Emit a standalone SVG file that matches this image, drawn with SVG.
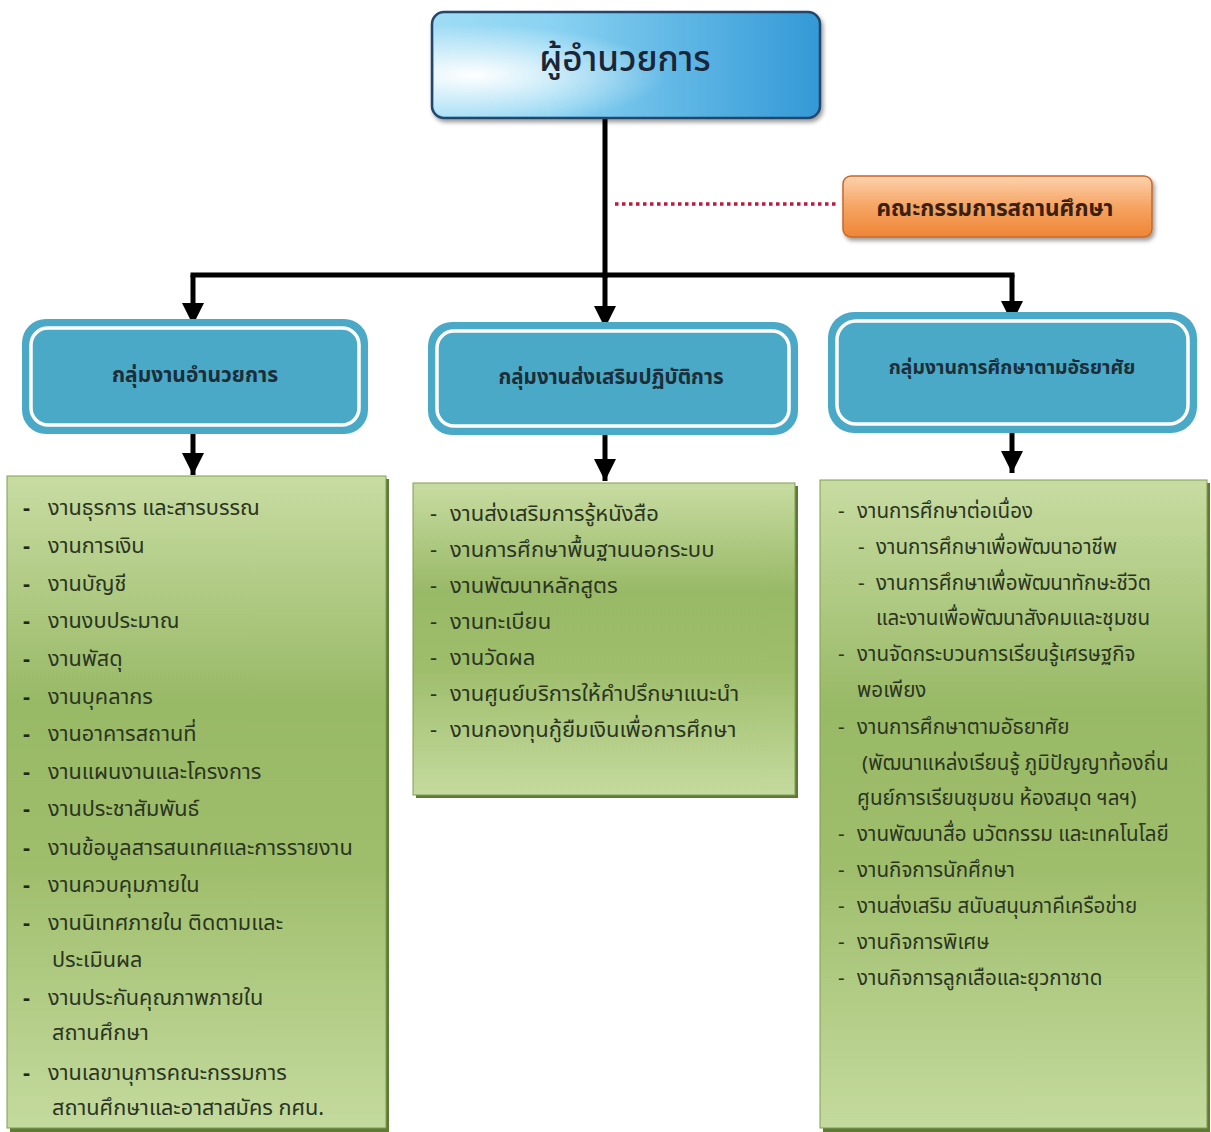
<svg xmlns="http://www.w3.org/2000/svg" width="1211" height="1132" viewBox="0 0 1211 1132">
<defs>
  <linearGradient id="gTop" x1="0" y1="0" x2="1" y2="0">
    <stop offset="0" stop-color="#9fdcf5"/>
    <stop offset="0.3" stop-color="#8ad3f2"/>
    <stop offset="1" stop-color="#3399d6"/>
  </linearGradient>
  <radialGradient id="gGlow" cx="0.1" cy="0.6" r="0.5">
    <stop offset="0" stop-color="#ffffff" stop-opacity="1"/>
    <stop offset="0.45" stop-color="#ffffff" stop-opacity="0.55"/>
    <stop offset="1" stop-color="#ffffff" stop-opacity="0"/>
  </radialGradient>
  <linearGradient id="gOrange" x1="0" y1="0" x2="0" y2="1">
    <stop offset="0" stop-color="#fcd2ad"/>
    <stop offset="0.5" stop-color="#f6a463"/>
    <stop offset="1" stop-color="#ee8535"/>
  </linearGradient>
  <linearGradient id="gGreen" x1="0" y1="0" x2="0" y2="1">
    <stop offset="0" stop-color="#c8dca2"/>
    <stop offset="0.35" stop-color="#98b966"/>
    <stop offset="0.6" stop-color="#9fbe6c"/>
    <stop offset="1" stop-color="#c4da9e"/>
  </linearGradient>
  <filter id="sh" x="-10%" y="-10%" width="130%" height="140%">
    <feDropShadow dx="2" dy="3" stdDeviation="2" flood-color="#000" flood-opacity="0.4"/>
  </filter>
  <marker id="ah" viewBox="0 0 10 10" refX="10" refY="5" markerWidth="4.4" markerHeight="4.4" markerUnits="strokeWidth" orient="auto">
    <path d="M0,0 L10,5 L0,10 z" fill="#000"/>
  </marker>
  <style>
    .th { font-family: "Noto Sans Thai", "Liberation Sans", "DejaVu Sans", sans-serif; }
    .grp rect.o { fill: #4aa9c7; }
    .grp rect.i { fill: #4aa9c7; stroke: #ffffff; stroke-width: 3.5; }
    .gt { font-weight: bold; fill: #1c2e3a; text-anchor: middle; }
    .li { fill: #2b3522; }
    .dash { fill: #1e2a14; font-weight: bold; }
    .box { fill: url(#gGreen); stroke: #7f9f52; stroke-width: 1; }
    .conn { stroke: #000; stroke-width: 5; fill: none; }
  </style>
</defs>
<rect width="1211" height="1132" fill="#ffffff"/>

<g id="connectors">
  <line class="conn" x1="605" y1="118" x2="605" y2="278"/>
  <line class="conn" x1="190.5" y1="275" x2="1014.5" y2="275"/>
  <line class="conn" x1="193" y1="275" x2="193" y2="325" marker-end="url(#ah)"/>
  <line class="conn" x1="605" y1="275" x2="605" y2="328" marker-end="url(#ah)"/>
  <line class="conn" x1="1012" y1="275" x2="1012" y2="323" marker-end="url(#ah)"/>
  <line class="conn" x1="193" y1="432" x2="193" y2="475" marker-end="url(#ah)"/>
  <line class="conn" x1="605" y1="435" x2="605" y2="481" marker-end="url(#ah)"/>
  <line class="conn" x1="1012" y1="433" x2="1012" y2="473" marker-end="url(#ah)"/>
  <line x1="615" y1="204" x2="836" y2="204" stroke="#c0173d" stroke-width="3.5" stroke-dasharray="3.5 3.5"/>
</g>

<g id="director">
  <rect x="432" y="12" width="388" height="106" rx="12" fill="url(#gTop)" stroke="#22466b" stroke-width="2.5" filter="url(#sh)"/>
  <rect x="434" y="14" width="384" height="102" rx="11" fill="url(#gGlow)"/>
  <text class="th" x="625" y="71" font-size="35" font-weight="500" fill="#1a2636" text-anchor="middle">ผู้อำนวยการ</text>
</g>

<g id="committee">
  <rect x="843" y="176" width="309" height="61" rx="8" fill="url(#gOrange)" stroke="#c46a2c" stroke-width="1.5" filter="url(#sh)"/>
  <text class="th" x="995" y="216" font-size="22.5" font-weight="bold" fill="#3a2010" text-anchor="middle">คณะกรรมการสถานศึกษา</text>
</g>

<g id="group-admin" class="grp">
  <rect class="o" x="22" y="319" width="346" height="115" rx="24"/>
  <rect class="i" x="31" y="328" width="328" height="97" rx="17"/>
  <text class="th gt" x="195" y="382" font-size="21">กลุ่มงานอำนวยการ</text>
</g>

<g id="group-promote" class="grp">
  <rect class="o" x="428" y="322" width="370" height="113" rx="24"/>
  <rect class="i" x="437" y="331" width="352" height="95" rx="17"/>
  <text class="th gt" x="611" y="384" font-size="20.6">กลุ่มงานส่งเสริมปฏิบัติการ</text>
</g>

<g id="group-informal" class="grp">
  <rect class="o" x="828" y="312" width="369" height="121" rx="26"/>
  <rect class="i" x="837" y="321" width="351" height="103" rx="19"/>
  <text class="th gt" x="1012" y="374" font-size="19.4">กลุ่มงานการศึกษาตามอัธยาศัย</text>
</g>

<g id="list-admin">
  <rect x="10" y="479" width="379" height="653" fill="#5e7a34"/>
  <rect class="box" x="7" y="476" width="379" height="652"/>
  <g class="th" font-size="21.7">
    <text class="dash" x="23" y="515">-</text><text class="li" x="48" y="515">งานธุรการ และสารบรรณ</text>
    <text class="dash" x="23" y="553">-</text><text class="li" x="48" y="553">งานการเงิน</text>
    <text class="dash" x="23" y="591">-</text><text class="li" x="48" y="591">งานบัญชี</text>
    <text class="dash" x="23" y="628">-</text><text class="li" x="48" y="628">งานงบประมาณ</text>
    <text class="dash" x="23" y="666">-</text><text class="li" x="48" y="666">งานพัสดุ</text>
    <text class="dash" x="23" y="704">-</text><text class="li" x="48" y="704">งานบุคลากร</text>
    <text class="dash" x="23" y="741">-</text><text class="li" x="48" y="741">งานอาคารสถานที่</text>
    <text class="dash" x="23" y="779">-</text><text class="li" x="48" y="779">งานแผนงานและโครงการ</text>
    <text class="dash" x="23" y="816">-</text><text class="li" x="48" y="816">งานประชาสัมพันธ์</text>
    <text class="dash" x="23" y="855">-</text><text class="li" x="48" y="855">งานข้อมูลสารสนเทศและการรายงาน</text>
    <text class="dash" x="23" y="892">-</text><text class="li" x="48" y="892">งานควบคุมภายใน</text>
    <text class="dash" x="23" y="930">-</text><text class="li" x="48" y="930">งานนิเทศภายใน ติดตามและ</text>
    <text class="li" x="52" y="967">ประเมินผล</text>
    <text class="dash" x="23" y="1005">-</text><text class="li" x="48" y="1005">งานประกันคุณภาพภายใน</text>
    <text class="li" x="52" y="1040">สถานศึกษา</text>
    <text class="dash" x="23" y="1080">-</text><text class="li" x="48" y="1080">งานเลขานุการคณะกรรมการ</text>
    <text class="li" x="52" y="1115">สถานศึกษาและอาสาสมัคร กศน.</text>
  </g>
</g>

<g id="list-promote">
  <rect x="416" y="486" width="382" height="312" fill="#5e7a34"/>
  <rect class="box" x="413" y="483" width="382" height="312"/>
  <g class="th" font-size="22">
    <text class="li" x="430" y="521">-</text><text class="li" x="450" y="521">งานส่งเสริมการรู้หนังสือ</text>
    <text class="li" x="430" y="557">-</text><text class="li" x="450" y="557">งานการศึกษาพื้นฐานนอกระบบ</text>
    <text class="li" x="430" y="593">-</text><text class="li" x="450" y="593">งานพัฒนาหลักสูตร</text>
    <text class="li" x="430" y="629">-</text><text class="li" x="450" y="629">งานทะเบียน</text>
    <text class="li" x="430" y="665">-</text><text class="li" x="450" y="665">งานวัดผล</text>
    <text class="li" x="430" y="701">-</text><text class="li" x="450" y="701">งานศูนย์บริการให้คำปรึกษาแนะนำ</text>
    <text class="li" x="430" y="737">-</text><text class="li" x="450" y="737">งานกองทุนกู้ยืมเงินเพื่อการศึกษา</text>
  </g>
</g>

<g id="list-informal">
  <rect x="823" y="483" width="387" height="649" fill="#5e7a34"/>
  <rect class="box" x="820" y="480" width="387" height="648"/>
  <g class="th" font-size="20.6">
    <text class="li" x="838" y="518">-</text><text class="li" x="857" y="518">งานการศึกษาต่อเนื่อง</text>
    <text class="li" x="858" y="554">-</text><text class="li" x="876" y="554">งานการศึกษาเพื่อพัฒนาอาชีพ</text>
    <text class="li" x="858" y="590">-</text><text class="li" x="876" y="590">งานการศึกษาเพื่อพัฒนาทักษะชีวิต</text>
    <text class="li" x="876" y="625">และงานเพื่อพัฒนาสังคมและชุมชน</text>
    <text class="li" x="838" y="661">-</text><text class="li" x="857" y="661">งานจัดกระบวนการเรียนรู้เศรษฐกิจ</text>
    <text class="li" x="857" y="697">พอเพียง</text>
    <text class="li" x="838" y="734">-</text><text class="li" x="857" y="734">งานการศึกษาตามอัธยาศัย</text>
    <text class="li" x="862" y="770">(พัฒนาแหล่งเรียนรู้  ภูมิปัญญาท้องถิ่น</text>
    <text class="li" x="857" y="805">ศูนย์การเรียนชุมชน ห้องสมุด  ฯลฯ)</text>
    <text class="li" x="838" y="841">-</text><text class="li" x="857" y="841">งานพัฒนาสื่อ นวัตกรรม และเทคโนโลยี</text>
    <text class="li" x="838" y="877">-</text><text class="li" x="857" y="877">งานกิจการนักศึกษา</text>
    <text class="li" x="838" y="913">-</text><text class="li" x="857" y="913">งานส่งเสริม สนับสนุนภาคีเครือข่าย</text>
    <text class="li" x="838" y="949">-</text><text class="li" x="857" y="949">งานกิจการพิเศษ</text>
    <text class="li" x="838" y="985">-</text><text class="li" x="857" y="985">งานกิจการลูกเสือและยุวกาชาด</text>
  </g>
</g>
</svg>
